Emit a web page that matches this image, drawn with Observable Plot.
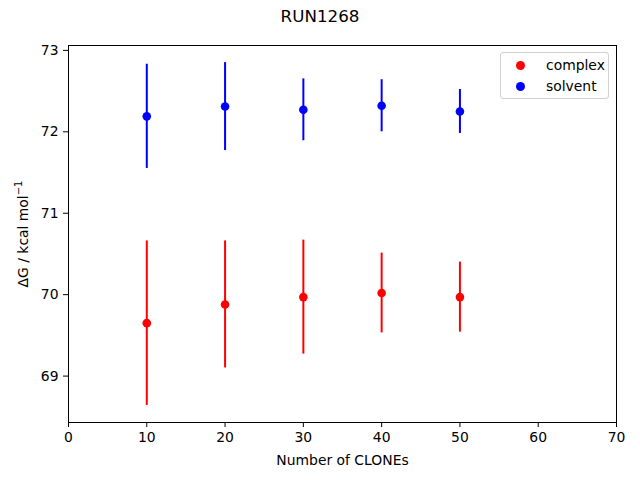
<!DOCTYPE html>
<html>
<head>
<meta charset="utf-8">
<script src="https://cdn.jsdelivr.net/npm/d3@7"></script>
<script src="https://cdn.jsdelivr.net/npm/@observablehq/plot@0.6"></script>
<style>
  body { margin: 0; background: #fff; font-family: "DejaVu Sans", sans-serif; }
  #wrap { position: relative; width: 640px; height: 480px; }
  #title { position: absolute; left: 0; top: 6px; width: 640px; text-align: center; font-size: 16.7px; color: #000; }
  #chart { position: absolute; left: 0; top: 0; }
  #legend { position: absolute; left: 500px; top: 52px; width: 107px; height: 45px; border: 1px solid #d0d0d0; border-radius: 3px; background: rgba(255,255,255,0.8); font-size: 13.9px; }
  .item { position: absolute; left: 0; height: 20px; line-height: 20px; }
  .sw { position: absolute; left: 15px; top: 6px; width: 9px; height: 9px; border-radius: 50%; }
  .lb { position: absolute; left: 45px; top: 0; white-space: nowrap; }
</style>
</head>
<body>
<div id="wrap">
  <div id="chart"></div>
  <div id="title">RUN1268</div>
  <div id="legend"></div>
</div>
<script>
const clones = [10, 20, 30, 40, 50];
const complexDG = [69.65, 69.88, 69.97, 70.02, 69.97];
const complexErr = [1.01, 0.78, 0.70, 0.49, 0.43];
const solventDG = [72.19, 72.31, 72.27, 72.32, 72.25];
const solventErr = [0.64, 0.54, 0.38, 0.32, 0.27];
const seriesNames = ["complex", "solvent"];
const seriesColors = ["#ff0000", "#0000ff"];
const xTicks = [0, 10, 20, 30, 40, 50, 60, 70];
const yTicks = [69, 70, 71, 72, 73];

const rows = [];
clones.forEach((c, i) => {
  rows.push({series: "complex", x: c, y: complexDG[i], e: complexErr[i]});
  rows.push({series: "solvent", x: c, y: solventDG[i], e: solventErr[i]});
});

const plot = Plot.plot({
  width: 640,
  height: 480,
  marginLeft: 68,
  marginRight: 24,
  marginTop: 45,
  marginBottom: 58,
  style: {fontFamily: "DejaVu Sans, sans-serif", fontSize: "13.9px", color: "#000", background: "#fff"},
  x: {domain: [0, 70], ticks: xTicks, tickFormat: "d", tickSize: 5, tickPadding: 5, label: "Number of CLONEs", labelAnchor: "center", labelArrow: "none", labelOffset: 42},
  y: {domain: [68.43, 73.06], ticks: yTicks, tickFormat: "d", tickSize: 5, tickPadding: 5, label: "ΔG / kcal mol⁻¹", labelAnchor: "center", labelArrow: "none", labelOffset: 50},
  color: {domain: seriesNames, range: seriesColors},
  marks: [
    Plot.ruleX(rows, {x: "x", y1: d => d.y - d.e, y2: d => d.y + d.e, stroke: "series", strokeWidth: 2}),
    Plot.dot(rows, {x: "x", y: "y", fill: "series", r: 4.3}),
    Plot.frame({stroke: "#000", strokeWidth: 1})
  ]
});
document.getElementById("chart").appendChild(plot);

const ylab = plot.querySelector('g[aria-label="y-axis label"] text');
if (ylab) {
  ylab.textContent = "";
  const ns = "http://www.w3.org/2000/svg";
  const t1 = document.createElementNS(ns, "tspan");
  t1.textContent = "ΔG / kcal mol";
  const t2 = document.createElementNS(ns, "tspan");
  t2.textContent = "−1";
  t2.setAttribute("dy", "-6");
  t2.setAttribute("font-size", "10px");
  ylab.appendChild(t1);
  ylab.appendChild(t2);
}

const legend = document.getElementById("legend");
seriesNames.forEach((n, i) => {
  const it = document.createElement("div");
  it.className = "item";
  it.style.top = (2 + i * 21) + "px";
  it.style.width = "100%";
  it.innerHTML = `<span class="sw" style="background:${seriesColors[i]}"></span><span class="lb">${n}</span>`;
  legend.appendChild(it);
});
</script>
</body>
</html>
